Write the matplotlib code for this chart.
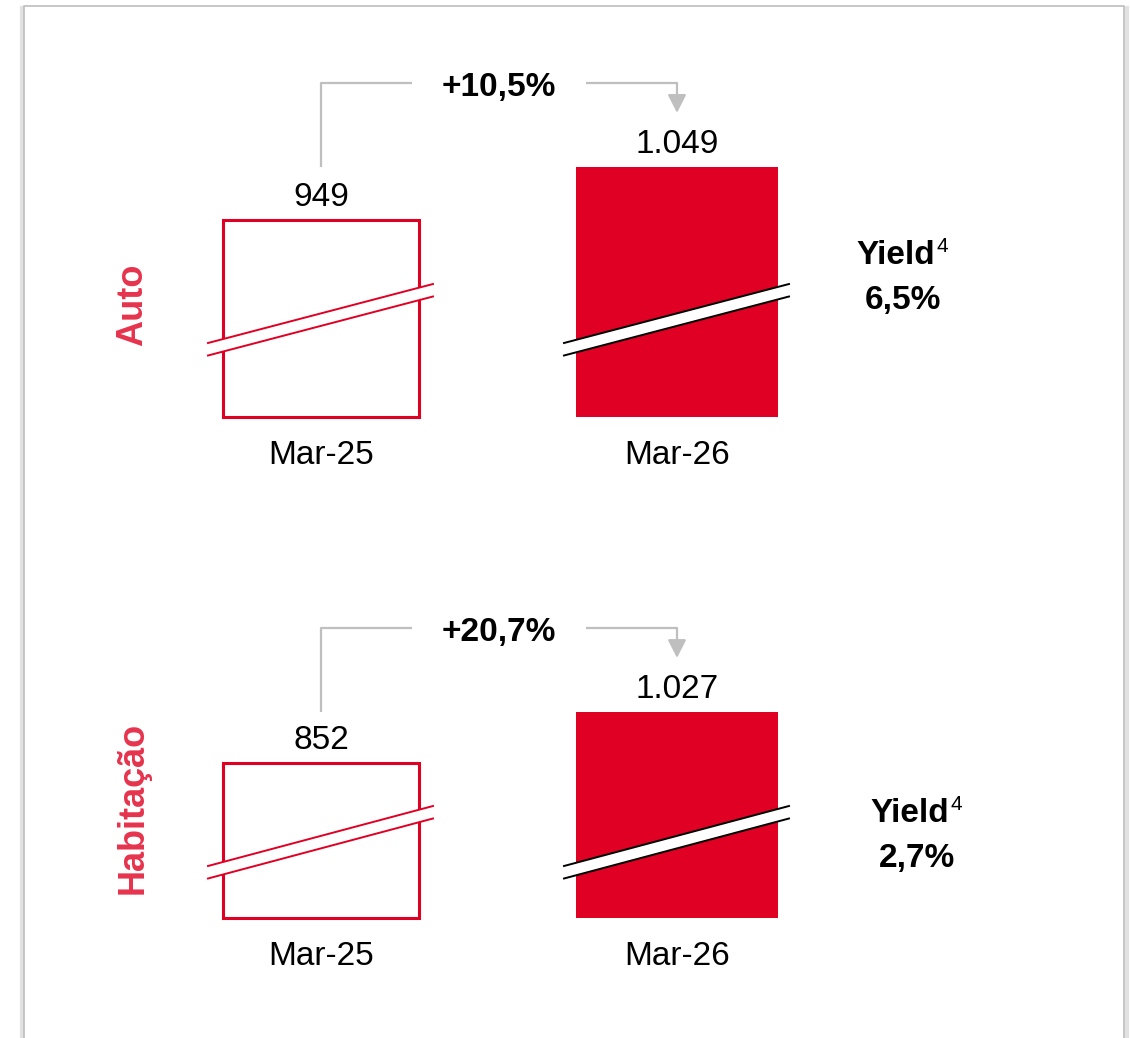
import matplotlib
matplotlib.use('Agg')
import matplotlib.pyplot as plt
from matplotlib.lines import Line2D
from matplotlib.patches import Polygon

# Data
categories = ['Mar-25', 'Mar-26']
segments = ['Auto', 'Habitação']
auto_values = [949, 1049]
hab_values = [852, 1027]
growth_labels = ['+10,5%', '+20,7%']
yield_labels = ['6,5%', '2,7%']

RED = '#E00024'
LABEL_RED = '#E6334D'
GRAY = '#BFBFBF'
FONT = 'Liberation Sans'

W, H = 1131, 1038
fig = plt.figure(figsize=(W / 100, H / 100), dpi=100)
fig.patch.set_facecolor('white')

# Frame around the panel (light gray with a soft shadow outside)
def fig_line(xs, ys, **kw):
    fig.add_artist(Line2D([x / W for x in xs], [1 - y / H for y in ys],
                          transform=fig.transFigure, **kw))

fig_line([22, 22], [H + 5, 8], color='#E2E2E2', lw=3)
fig_line([1126.5, 1126.5], [8, H + 5], color='#E2E2E2', lw=3)
fig_line([24, 24, 1124, 1124], [H + 5, 6, 6, H + 5], color='#BDBDBD', lw=1.2)

# panel layout: (bar bottom px, axes top px, y limits, break heights in px, yield offsets)
panels = [
    dict(name=segments[0], values=auto_values, growth=growth_labels[0], yld=yield_labels[0],
         bottom=417, top=60, ylim=(577, 1250.6), brk=(74, 133), yield_xy=(226, 162),
         label_dy=112),
    dict(name=segments[1], values=hab_values, growth=growth_labels[1], yld=yield_labels[1],
         bottom=918, top=600, ylim=(320, 1411), brk=(52, 112), yield_xy=(240, 105),
         label_dy=110),
]

X_LEFT, X_RIGHT = 54, 944
XLIM = (-0.75, 1.75)
PX_PER_X = (X_RIGHT - X_LEFT) / (XLIM[1] - XLIM[0])
x = [0, 1]

for p in panels:
    ax = fig.add_axes([X_LEFT / W, 1 - p['bottom'] / H,
                       (X_RIGHT - X_LEFT) / W, (p['bottom'] - p['top']) / H])
    base, ymax = p['ylim']
    ax.set_xlim(*XLIM)
    ax.set_ylim(base, ymax)
    ax.axis('off')
    py = (p['bottom'] - p['top']) / (ymax - base)  # px per data unit

    vals = p['values']
    heights = [v - base for v in vals]
    ax.bar(x[0], heights[0], bottom=base, width=0.55, facecolor='white',
           edgecolor=RED, linewidth=2.2, clip_on=False)
    ax.bar(x[1], heights[1], bottom=base, width=0.57, facecolor=RED,
           edgecolor='none', clip_on=False)

    # axis break marks
    a, b = p['brk']
    for xi, lc in zip(x, [RED, 'black']):
        xl, xr = xi - 113 / PX_PER_X, xi + 112 / PX_PER_X
        y1l, y1r = base + a / py, base + b / py
        y2l, y2r = base + (a - 12.5) / py, base + (b - 12.5) / py
        ax.add_patch(Polygon([(xl, y1l), (xr, y1r), (xr, y2r), (xl, y2l)],
                             closed=True, facecolor='white', edgecolor='none',
                             clip_on=False, zorder=3))
        ax.plot([xl, xr], [y1l, y1r], color=lc, lw=1.4, clip_on=False, zorder=4)
        ax.plot([xl, xr], [y2l, y2r], color=lc, lw=1.4, clip_on=False, zorder=4)

    # value labels and category labels
    for xi, v, c in zip(x, vals, categories):
        ax.annotate(f'{v:,}'.replace(',', '.'), xy=(xi, v), xytext=(0, 22),
                    textcoords='offset pixels', ha='center', va='center',
                    fontsize=24, family=FONT, color='black')
        ax.annotate(c, xy=(xi, base), xytext=(0, -39), textcoords='offset pixels',
                    ha='center', va='center', fontsize=24, family=FONT, color='black')

    # growth connector
    top = max(vals)
    y_line = top + 84 / py
    y_tip = top + 54 / py
    mid = (x[0] + x[1]) / 2
    gap = 87 / PX_PER_X
    ax.plot([x[0], x[0], mid - gap], [top, y_line, y_line], color=GRAY, lw=1.6,
            clip_on=False, solid_capstyle='butt')
    ax.plot([mid + gap, x[1]], [y_line, y_line], color=GRAY, lw=1.6, clip_on=False,
            solid_capstyle='butt')
    ax.annotate('', xy=(x[1], y_tip), xytext=(x[1], y_line),
                arrowprops=dict(arrowstyle='-|>,head_length=0.55,head_width=0.28',
                                mutation_scale=20, color=GRAY, lw=1.6,
                                shrinkA=0, shrinkB=0))
    ax.annotate(p['growth'], xy=(mid, y_line), xytext=(0, -5), textcoords='offset pixels',
                ha='center', va='center', fontsize=24, fontweight='bold',
                family=FONT, color='black')

    # segment label (rotated)
    ax.annotate(p['name'], xy=(x[0], base), xytext=(-188, p['label_dy']),
                textcoords='offset pixels', rotation=90, ha='center', va='center',
                fontsize=26, fontweight='bold', family=FONT, color=LABEL_RED)

    # yield note
    dx, dy = p['yield_xy']
    ax.annotate('Yield', xy=(x[1], base), xytext=(dx - 7, dy), textcoords='offset pixels',
                ha='center', va='center', fontsize=24, fontweight='bold',
                family=FONT, color='black')
    ax.annotate('4', xy=(x[1], base), xytext=(dx + 39, dy + 9), textcoords='offset pixels',
                ha='center', va='center', fontsize=15, family=FONT, color='black')
    ax.annotate(p['yld'], xy=(x[1], base), xytext=(dx, dy - 45), textcoords='offset pixels',
                ha='center', va='center', fontsize=24, fontweight='bold',
                family=FONT, color='black')

fig.savefig('out.png', dpi=100)
